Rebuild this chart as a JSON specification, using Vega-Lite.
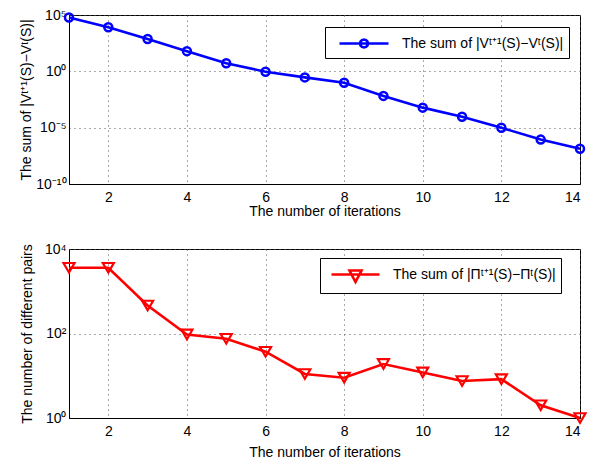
{
  "$schema": "https://vega.github.io/schema/vega-lite/v6.json",
  "background": "white",
  "padding": {"left": 18, "top": 7, "right": 5, "bottom": 2},
  "spacing": 22,
  "resolve": {"scale": {"color": "independent"}, "legend": {"color": "independent"}},
  "config": {
    "font": "Liberation Sans",
    "view": {"stroke": "black", "strokeWidth": 1},
    "axis": {
      "labelFont": "Liberation Sans", "labelFontSize": 14, "labelColor": "black",
      "titleFont": "Liberation Sans", "titleFontSize": 14, "titleFontWeight": "normal", "titleColor": "black",
      "domainColor": "black", "ticks": false, "grid": true, "gridColor": "#555555", "gridDash": [1, 4], "gridOpacity": 1,
      "labelPadding": 4
    },
    "legend": {
      "labelFont": "Liberation Sans", "labelFontSize": 14, "labelColor": "black", "labelLimit": 400,
      "strokeColor": "black", "fillColor": "white", "padding": 5
    }
  },
  "vconcat": [
    {
      "width": 511, "height": 169,
      "data": {"values": [
        {"iter": 1, "value": 6.0e4, "series": "The sum of |Vᵗ⁺¹(S)−Vᵗ(S)|  "},
        {"iter": 2, "value": 8.1e3, "series": "The sum of |Vᵗ⁺¹(S)−Vᵗ(S)|  "},
        {"iter": 3, "value": 740, "series": "The sum of |Vᵗ⁺¹(S)−Vᵗ(S)|  "},
        {"iter": 4, "value": 62, "series": "The sum of |Vᵗ⁺¹(S)−Vᵗ(S)|  "},
        {"iter": 5, "value": 5.2, "series": "The sum of |Vᵗ⁺¹(S)−Vᵗ(S)|  "},
        {"iter": 6, "value": 0.93, "series": "The sum of |Vᵗ⁺¹(S)−Vᵗ(S)|  "},
        {"iter": 7, "value": 0.29, "series": "The sum of |Vᵗ⁺¹(S)−Vᵗ(S)|  "},
        {"iter": 8, "value": 0.098, "series": "The sum of |Vᵗ⁺¹(S)−Vᵗ(S)|  "},
        {"iter": 9, "value": 0.0066, "series": "The sum of |Vᵗ⁺¹(S)−Vᵗ(S)|  "},
        {"iter": 10, "value": 6.0e-4, "series": "The sum of |Vᵗ⁺¹(S)−Vᵗ(S)|  "},
        {"iter": 11, "value": 9.3e-5, "series": "The sum of |Vᵗ⁺¹(S)−Vᵗ(S)|  "},
        {"iter": 12, "value": 9.8e-6, "series": "The sum of |Vᵗ⁺¹(S)−Vᵗ(S)|  "},
        {"iter": 13, "value": 8.7e-7, "series": "The sum of |Vᵗ⁺¹(S)−Vᵗ(S)|  "},
        {"iter": 14, "value": 1.35e-7, "series": "The sum of |Vᵗ⁺¹(S)−Vᵗ(S)|  "}
      ]},
      "encoding": {
        "x": {"field": "iter", "type": "quantitative",
              "scale": {"domain": [1, 14], "nice": false, "zero": false},
              "axis": {"values": [2, 4, 6, 8, 10, 12, 14], "title": "The number of iterations", "labelPadding": 6, "titlePadding": 0}},
        "y": {"field": "value", "type": "quantitative",
              "scale": {"type": "log", "domain": [1e-10, 1e5], "nice": false},
              "axis": {"values": [1e-10, 1e-5, 1, 1e5], "title": "The sum of |Vᵗ⁺¹(S)−Vᵗ(S)|", "labelPadding": 3, "titleX": -36,
                       "labelExpr": "round(log(datum.value)/LN10) == 5 ? '10⁵' : round(log(datum.value)/LN10) == 0 ? '10⁰' : round(log(datum.value)/LN10) == -5 ? '10⁻⁵' : '10⁻¹⁰'"}}
      },
      "layer": [
        {"mark": {"type": "line", "strokeWidth": 2.6},
         "encoding": {"color": {"field": "series", "type": "nominal", "scale": {"range": ["#0000ff"]},
           "legend": {"title": null, "orient": "none", "legendX": 256, "legendY": 12, "symbolSize": 400, "symbolStrokeWidth": 2.6, "labelOffset": 49,
             "symbolType": "M-0.2,0L4.7,0M2.65,0L2.596,0.2L2.45,0.346L2.25,0.4L2.05,0.346L1.904,0.2L1.85,0L1.904,-0.2L2.05,-0.346L2.25,-0.4L2.45,-0.346L2.596,-0.2Z"}}}},
        {"mark": {"type": "point", "shape": "circle", "filled": false, "size": 64, "strokeWidth": 2.5, "color": "#0000ff", "opacity": 1}}
      ]
    },
    {
      "width": 511, "height": 169,
      "data": {"values": [
        {"iter": 1, "value": 3600, "series": "The sum of |Πᵗ⁺¹(S)−Πᵗ(S)|   "},
        {"iter": 2, "value": 3600, "series": "The sum of |Πᵗ⁺¹(S)−Πᵗ(S)|   "},
        {"iter": 3, "value": 460, "series": "The sum of |Πᵗ⁺¹(S)−Πᵗ(S)|   "},
        {"iter": 4, "value": 95, "series": "The sum of |Πᵗ⁺¹(S)−Πᵗ(S)|   "},
        {"iter": 5, "value": 75, "series": "The sum of |Πᵗ⁺¹(S)−Πᵗ(S)|   "},
        {"iter": 6, "value": 37, "series": "The sum of |Πᵗ⁺¹(S)−Πᵗ(S)|   "},
        {"iter": 7, "value": 11, "series": "The sum of |Πᵗ⁺¹(S)−Πᵗ(S)|   "},
        {"iter": 8, "value": 9, "series": "The sum of |Πᵗ⁺¹(S)−Πᵗ(S)|   "},
        {"iter": 9, "value": 19, "series": "The sum of |Πᵗ⁺¹(S)−Πᵗ(S)|   "},
        {"iter": 10, "value": 12, "series": "The sum of |Πᵗ⁺¹(S)−Πᵗ(S)|   "},
        {"iter": 11, "value": 7.5, "series": "The sum of |Πᵗ⁺¹(S)−Πᵗ(S)|   "},
        {"iter": 12, "value": 8.3, "series": "The sum of |Πᵗ⁺¹(S)−Πᵗ(S)|   "},
        {"iter": 13, "value": 2, "series": "The sum of |Πᵗ⁺¹(S)−Πᵗ(S)|   "},
        {"iter": 14, "value": 1, "series": "The sum of |Πᵗ⁺¹(S)−Πᵗ(S)|   "}
      ]},
      "encoding": {
        "x": {"field": "iter", "type": "quantitative",
              "scale": {"domain": [1, 14], "nice": false, "zero": false},
              "axis": {"values": [2, 4, 6, 8, 10, 12, 14], "title": "The number of iterations", "labelPadding": 6, "titlePadding": 7}},
        "y": {"field": "value", "type": "quantitative",
              "scale": {"type": "log", "domain": [1, 1e4], "nice": false},
              "axis": {"values": [1, 100, 10000], "title": "The number of different pairs", "labelPadding": 3, "titleX": -35,
                       "labelExpr": "round(log(datum.value)/LN10) == 4 ? '10⁴' : round(log(datum.value)/LN10) == 2 ? '10²' : '10⁰'"}}
      },
      "layer": [
        {"mark": {"type": "line", "strokeWidth": 2.6},
         "encoding": {"color": {"field": "series", "type": "nominal", "scale": {"range": ["#ff0000"]},
           "legend": {"title": null, "orient": "none", "legendX": 251, "legendY": 9, "symbolSize": 400, "symbolStrokeWidth": 2.6, "labelOffset": 45,
             "symbolType": "M-0.5,0L4.3,0M1.3,-0.4L2.5,-0.4L1.9,0.75Z"}}}},
        {"mark": {"type": "point", "shape": "triangle-down", "filled": false, "size": 121, "strokeWidth": 2.2, "color": "#ff0000", "opacity": 1}}
      ]
    }
  ]
}
